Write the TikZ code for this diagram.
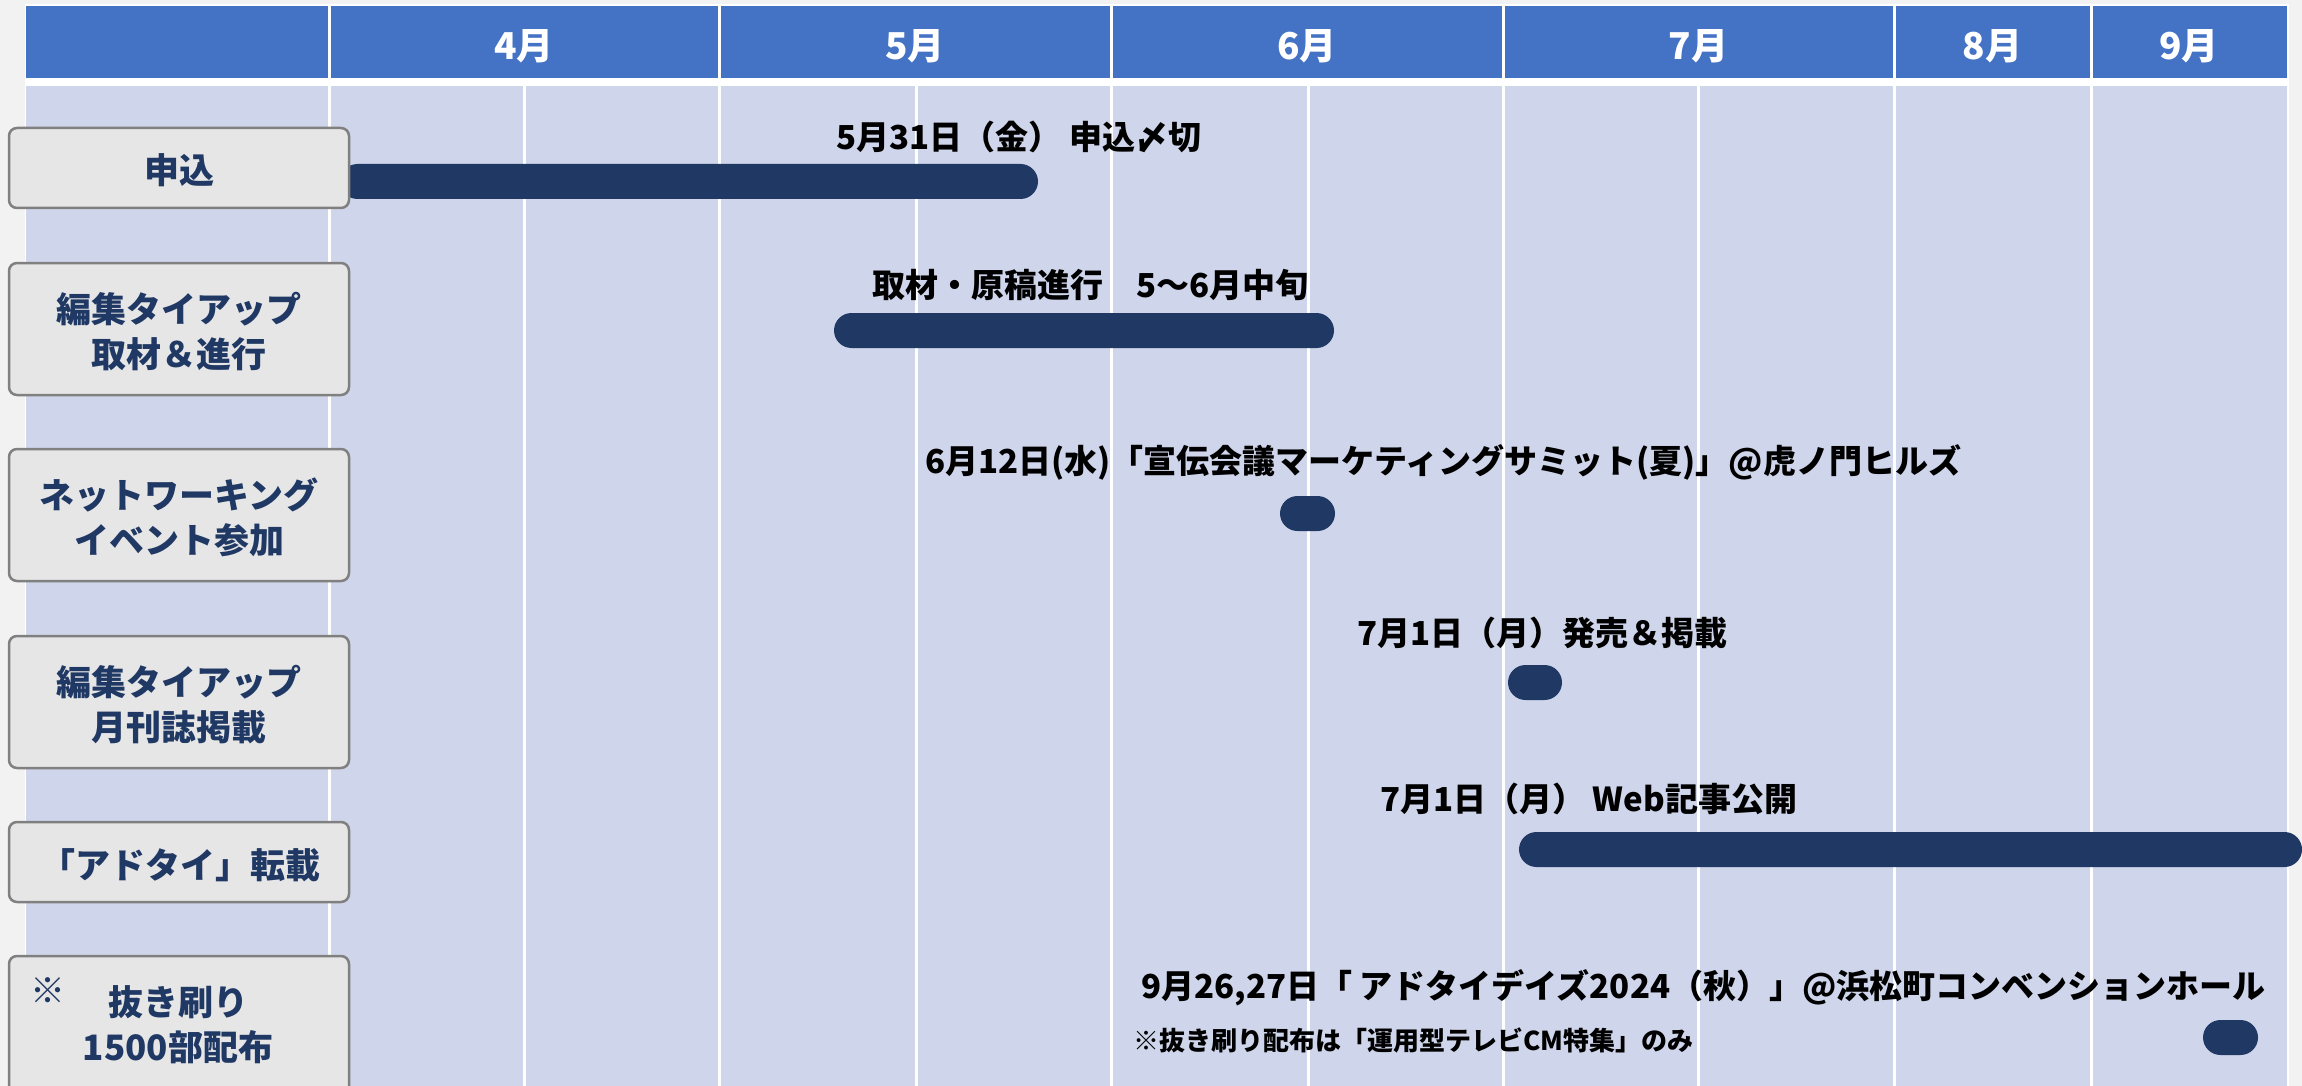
\documentclass[tikz,border=0pt]{standalone}
\usepackage{fontspec}
\setmainfont{Noto Sans CJK JP}
\definecolor{bgc}{HTML}{F2F2F2}
\definecolor{hdr}{HTML}{4472C4}
\definecolor{bodyc}{HTML}{CFD5EA}
\definecolor{boxfill}{HTML}{E6E6E6}
\definecolor{boxline}{HTML}{808080}
\definecolor{navy}{HTML}{203864}
\begin{document}
\begin{tikzpicture}[x=1pt,y=-1pt,
  boxst/.style={draw=boxline, fill=boxfill, line width=2.5pt, rounded corners=8pt, minimum width=340pt, inner sep=0pt, outer sep=0pt},
  lbl/.style={text=navy, font=\bfseries\fontsize{35}{45}\selectfont, align=center, inner sep=0pt},
  ann/.style={text=black, font=\bfseries\fontsize{33}{40}\selectfont, anchor=west, inner sep=0pt},
  note/.style={text=black, font=\bfseries\fontsize{26}{30}\selectfont, anchor=west, inner sep=0pt},
  mon/.style={text=white, font=\bfseries\fontsize{37}{40}\selectfont, inner sep=0pt},
  barst/.style={fill=navy, rounded corners=17.5pt, minimum height=35pt, inner sep=0pt, outer sep=0pt},
  gridl/.style={white, line width=3pt}]
\useasboundingbox (0,0) rectangle (2302,1086);
\fill[bgc] (0,0) rectangle (2302,1086);
\fill[white] (24.5,4.5) rectangle (2288.5,1090);
\fill[hdr] (26,6) rectangle (2287,78);
\fill[bodyc] (26,86) rectangle (2287,1090);
\foreach \x in {329,719,1111,1503,1894,2091} \draw[gridl] (\x,6) -- (\x,1090);
\foreach \x in {524,916,1308,1698} \draw[gridl] (\x,86) -- (\x,1090);
% months
\node[mon] (m4) at (524,46.5) {4月};
\node[mon] (m5) at (915,46.5) {5月};
\node[mon] (m6) at (1307,46.5) {6月};
\node[mon] (m7) at (1698.5,46.5) {7月};
\node[mon] (m8) at (1992.5,46.5) {8月};
\node[mon] (m9) at (2189,46.5) {9月};
% bars
\node[barst, minimum width=698pt] (bar1) at (689,181.5) {};
\node[barst, minimum width=500pt] (bar2) at (1084,330.5) {};
\node[barst, minimum width=55pt] (bar3) at (1307.5,513.5) {};
\node[barst, minimum width=54pt] (bar4) at (1535,682.5) {};
\node[barst, minimum width=783pt] (bar5) at (1910.5,849.5) {};
\node[barst, minimum width=55pt] (bar6) at (2230.5,1037.5) {};
% row boxes
\node[boxst, minimum height=80pt] (b1) at (179,168) {};
\node[boxst, minimum height=132pt] (b2) at (179,329) {};
\node[boxst, minimum height=132pt] (b3) at (179,515) {};
\node[boxst, minimum height=132pt] (b4) at (179,702) {};
\node[boxst, minimum height=80pt] (b5) at (179,862) {};
\node[boxst, minimum height=160pt] (b6) at (179,1036) {};
\node[lbl] (t1) at (179,170) {申込};
\node[lbl] (t2) at (179,332) {編集タイアップ\\取材＆進行};
\node[lbl] (t3) at (179,517) {ネットワーキング\\イベント参加};
\node[lbl] (t4) at (179,705) {編集タイアップ\\月刊誌掲載};
\node[lbl] (t5) at (180,865) {「アドタイ」転載};
\node[lbl] (t6) at (178,1025) {抜き刷り\\1500部配布};
\node[lbl] (t6m) at (47.5,991) {※};
% annotations
\node[ann] (a1) at (836,137) {5月31日（金） 申込〆切};
\node[ann] (a2) at (872,285) {取材・原稿進行　5～6月中旬};
\node[ann] (a3) at (925,462) {6月12日(水)「宣伝会議マーケティングサミット(夏)」@虎ノ門ヒルズ};
\node[ann] (a4) at (1357,633) {7月1日（月）発売＆掲載};
\node[ann] (a5) at (1380,799) {7月1日（月） Web記事公開};
\node[ann] (a6) at (1141,988) {9月26,27日「 アドタイデイズ2024（秋）」@浜松町コンベンションホール};
\node[note] (a7) at (1133,1040) {※抜き刷り配布は「運用型テレビCM特集」のみ};
\end{tikzpicture}
\end{document}
